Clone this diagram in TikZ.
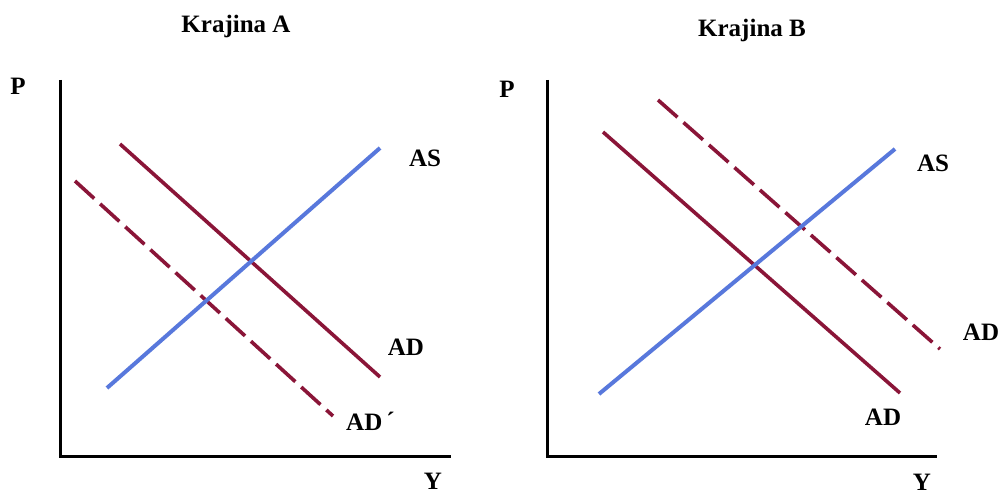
\documentclass[tikz,border=0pt]{standalone}
\usepackage{fontspec}
\setmainfont{Liberation Serif}
\definecolor{admaroon}{HTML}{8A1538}
\definecolor{asblue}{HTML}{5878DC}
\tikzset{
  axisline/.style={line width=3pt, black},
  asline/.style={line width=4pt, asblue},
  adline/.style={line width=3.6pt, admaroon},
  adshift/.style={adline, dash pattern=on 26pt off 8pt},
  lbl/.style={inner sep=0pt, font=\fontsize{25}{25}\selectfont\bfseries, anchor=base},
}
\begin{document}
\begin{tikzpicture}[x=1pt,y=-1pt]
\useasboundingbox (0,0) rectangle (1005,495);
\fill[white] (0,0) rectangle (1005,495);
% ---------- Krajina A ----------
\node[lbl] (titleA) at (236,33) {Krajina A};
\node[lbl] (pA) at (18,95) {P};
\node[lbl, anchor=north] (yA) at (433,473) {Y};
\coordinate (oA) at (60,456);
\coordinate (topA) at (60,80);
\coordinate (rightA) at (451,456);
\draw[axisline] (topA) -- (oA) -- (rightA);
\coordinate (as1A) at (107,388);
\coordinate (as2A) at (380,148);
\coordinate (ad1A) at (120,144);
\coordinate (ad2A) at (380,377);
\coordinate (adp1A) at (75,181);
\coordinate (adp2A) at (333,416);
\draw[adshift] (adp1A) -- (adp2A);
\draw[adline] (ad1A) -- (ad2A);
\draw[asline] (as1A) -- (as2A);
\node[lbl] (asA) at (425,166) {AS};
\node[lbl] (adA) at (406,355) {AD};
\node[lbl, anchor=base west] (adpA) at (346,430) {AD\kern4pt\raisebox{1pt}{´}};
% ---------- Krajina B ----------
\node[lbl] (titleB) at (752,37) {Krajina B};
\node[lbl] (pB) at (507,98) {P};
\node[lbl, anchor=north] (yB) at (922,474) {Y};
\coordinate (oB) at (547,456);
\coordinate (topB) at (547,80);
\coordinate (rightB) at (937,456);
\draw[axisline] (topB) -- (oB) -- (rightB);
\coordinate (as1B) at (599,394);
\coordinate (as2B) at (895,149);
\coordinate (ad1B) at (603,132);
\coordinate (ad2B) at (900,393);
\coordinate (adp1B) at (658,100);
\coordinate (adp2B) at (940,349);
\draw[adshift] (adp1B) -- (adp2B);
\draw[adline] (ad1B) -- (ad2B);
\draw[asline] (as1B) -- (as2B);
\node[lbl] (asB) at (933,171) {AS};
\node[lbl] (adpB) at (981,340) {AD};
\node[lbl] (adB) at (883,425) {AD};
\end{tikzpicture}
\end{document}
